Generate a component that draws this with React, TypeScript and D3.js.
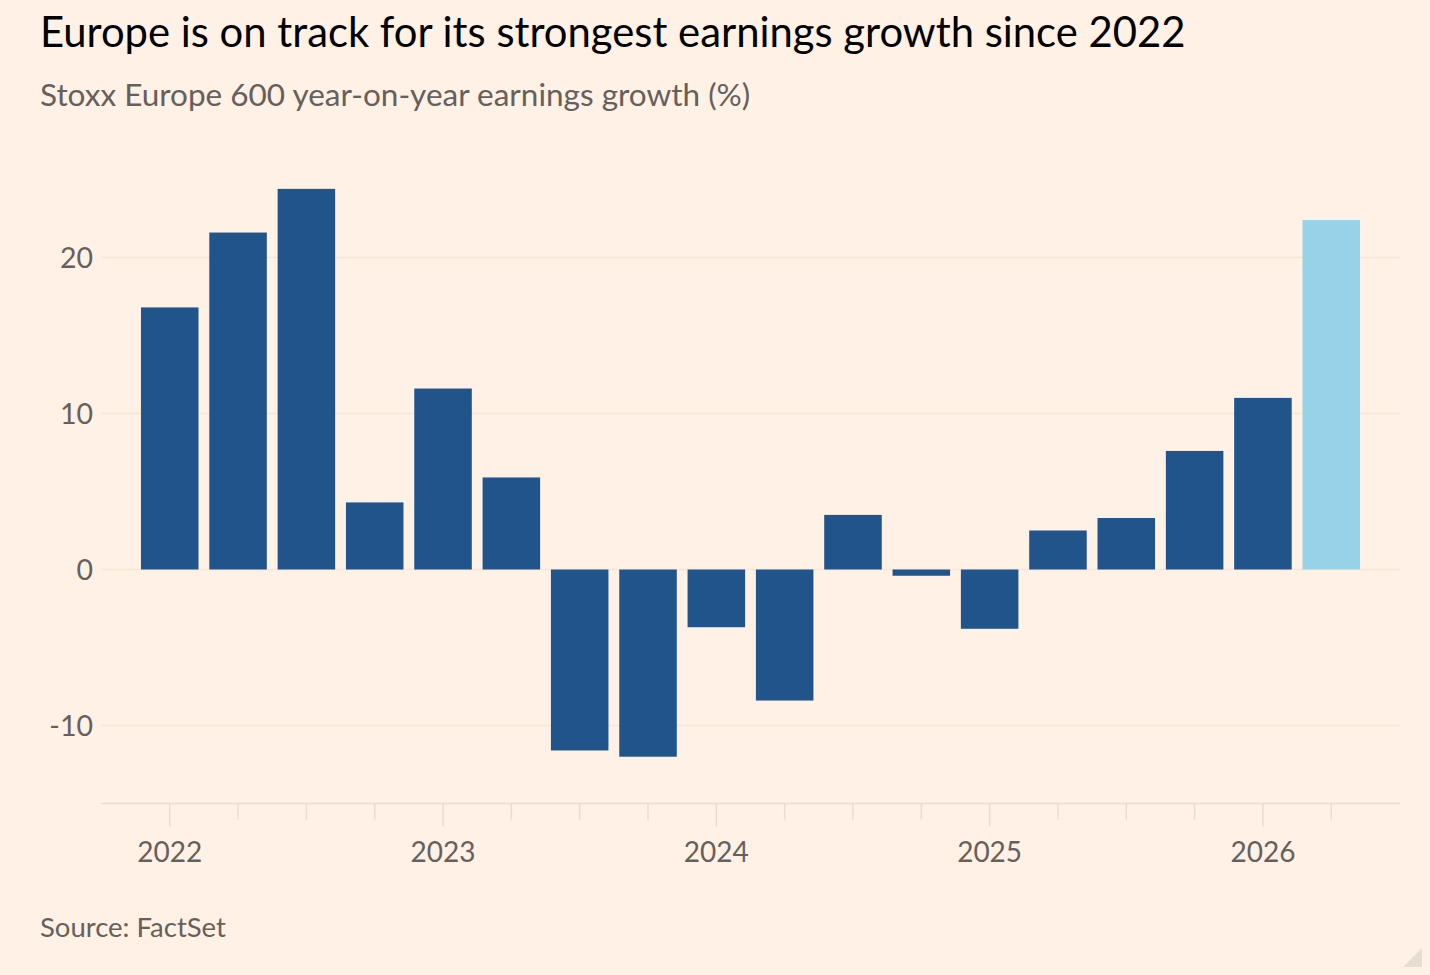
import * as d3 from "d3";
import { useEffect, useRef } from "react";

// Quarterly periods, 2022 Q1 to 2026 Q2
const periods = [
  "2022 Q1", "2022 Q2", "2022 Q3", "2022 Q4",
  "2023 Q1", "2023 Q2", "2023 Q3", "2023 Q4",
  "2024 Q1", "2024 Q2", "2024 Q3", "2024 Q4",
  "2025 Q1", "2025 Q2", "2025 Q3", "2025 Q4",
  "2026 Q1", "2026 Q2",
];

// Year-on-year earnings growth (%)
const growth = [
  16.8, 21.6, 24.4, 4.3,
  11.6, 5.9, -11.6, -12.0,
  -3.7, -8.4, 3.5, -0.4,
  -3.8, 2.5, 3.3, 7.6,
  11.0, 22.4,
];

// last quarter is an estimate
const estimated = ["2026 Q2"];

const yearLabels = ["2022", "2023", "2024", "2025", "2026"];
const yTicks = [-10, 0, 10, 20];

const W = 1430;
const H = 975;
const FONT = "Lato, 'Open Sans', sans-serif";

export default function App() {
  const ref = useRef<SVGSVGElement>(null);

  useEffect(() => {
    const svg = d3.select(ref.current);
    svg.selectAll("*").remove();

    svg.append("rect").attr("width", W).attr("height", H).attr("fill", "#fff1e5");

    const margin = { top: 179.5, right: 30, bottom: 171.5, left: 101 };

    const x = d3
      .scaleBand()
      .domain(periods)
      .range([margin.left, W - margin.right])
      .paddingInner(0.158)
      .paddingOuter(0.585);

    const y = d3
      .scaleLinear()
      .domain([-15, 25])
      .range([H - margin.bottom, margin.top]);

    // gridlines
    svg
      .append("g")
      .selectAll("line")
      .data(yTicks)
      .enter()
      .append("line")
      .attr("x1", margin.left)
      .attr("x2", W - margin.right)
      .attr("y1", (d) => y(d))
      .attr("y2", (d) => y(d))
      .attr("stroke", "#f6e6da")
      .attr("stroke-width", 1.5);

    // y labels
    svg
      .append("g")
      .selectAll("text")
      .data(yTicks)
      .enter()
      .append("text")
      .attr("x", 93)
      .attr("y", (d) => y(d))
      .attr("dy", "0.36em")
      .attr("text-anchor", "end")
      .attr("font-family", FONT)
      .attr("font-size", 28.5)
      .attr("fill", "#66605c")
      .text((d) => String(d));

    // bottom axis
    const axisY = y(-15);
    svg
      .append("line")
      .attr("x1", margin.left)
      .attr("x2", W - margin.right)
      .attr("y1", axisY)
      .attr("y2", axisY)
      .attr("stroke", "#e9dcd1")
      .attr("stroke-width", 1.5);

    const half = x.bandwidth() / 2;
    svg
      .append("g")
      .selectAll("line")
      .data(periods)
      .enter()
      .append("line")
      .attr("x1", (d) => (x(d) ?? 0) + half)
      .attr("x2", (d) => (x(d) ?? 0) + half)
      .attr("y1", axisY)
      .attr("y2", (d) => axisY + (d.endsWith("Q1") ? 23 : 16))
      .attr("stroke", "#e9dcd1")
      .attr("stroke-width", 1.5);

    svg
      .append("g")
      .selectAll("text")
      .data(yearLabels)
      .enter()
      .append("text")
      .attr("x", (d) => (x(`${d} Q1`) ?? 0) + half)
      .attr("y", 862)
      .attr("text-anchor", "middle")
      .attr("font-family", FONT)
      .attr("font-size", 28)
      .attr("fill", "#66605c")
      .text((d) => d);

    // bars
    svg
      .append("g")
      .selectAll("rect")
      .data(periods.map((p, i) => ({ p, v: growth[i] })))
      .enter()
      .append("rect")
      .attr("x", (d) => x(d.p) ?? 0)
      .attr("y", (d) => y(Math.max(0, d.v)))
      .attr("width", x.bandwidth())
      .attr("height", (d) => Math.abs(y(d.v) - y(0)))
      .attr("fill", (d) => (estimated.includes(d.p) ? "#96d3e8" : "#20548a"));

    // titles
    svg
      .append("text")
      .attr("x", 40)
      .attr("y", 47)
      .attr("font-family", FONT)
      .attr("font-size", 41.8)
      .attr("fill", "#000")
      .text("Europe is on track for its strongest earnings growth since 2022");

    svg
      .append("text")
      .attr("x", 40)
      .attr("y", 106)
      .attr("font-family", FONT)
      .attr("font-size", 31.5)
      .attr("fill", "#66605c")
      .text("Stoxx Europe 600 year-on-year earnings growth (%)");

    svg
      .append("text")
      .attr("x", 40)
      .attr("y", 937)
      .attr("font-family", FONT)
      .attr("font-size", 27.5)
      .attr("fill", "#66605c")
      .text("Source: FactSet");

    // resize grip in corner
    svg
      .append("path")
      .attr("d", "M1422,948 L1422,967 L1403,967 Z")
      .attr("fill", "#e6ddd3");
  }, []);

  return (
    <svg
      ref={ref}
      width={W}
      height={H}
      style={{ position: "absolute", left: 0, top: 0, display: "block" }}
    />
  );
}
